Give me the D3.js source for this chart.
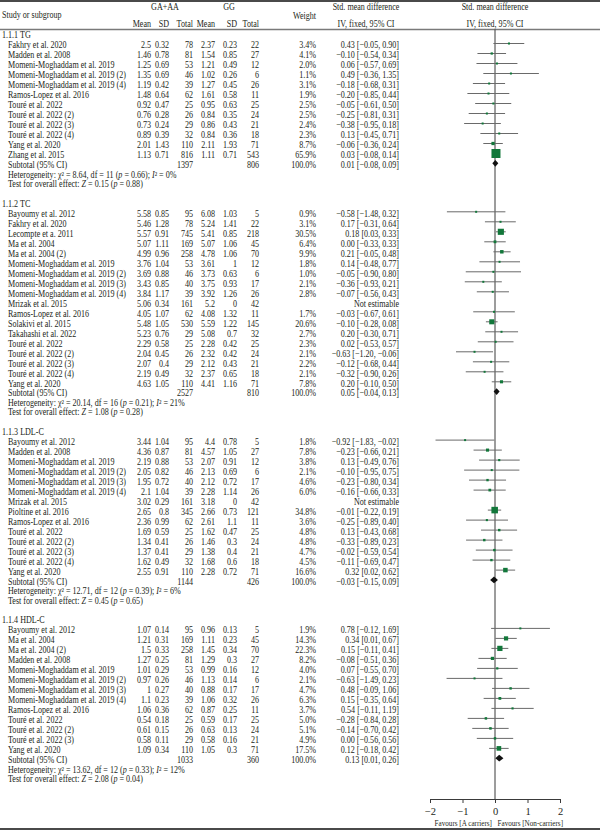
<!DOCTYPE html>
<html><head><meta charset="utf-8">
<script src="https://cdn.jsdelivr.net/npm/d3@7"></script>
<style>
body{margin:0;background:#fff}
text{font-family:"Liberation Serif","Times New Roman",serif;fill:#231f20}
</style>
</head><body><svg id="c" width="600" height="838"></svg>
<script>
// ---------------- DATA ----------------
const sectionTitles = ["1.1.1 TG", "1.1.2 TC", "1.1.3 LDL-C", "1.1.4 HDL-C"];
// [study, meanA, sdA, totalA, meanG, sdG, totalG, weight%, smd, lo, hi]
const tgRows = [
  ["Fakhry et al. 2020", 2.5, 0.32, 78, 2.37, 0.23, 22, 3.4, 0.43, -0.05, 0.90],
  ["Madden et al. 2008", 1.46, 0.78, 81, 1.54, 0.85, 27, 4.1, -0.10, -0.54, 0.34],
  ["Momeni-Moghaddam et al. 2019", 1.25, 0.69, 53, 1.21, 0.49, 12, 2.0, 0.06, -0.57, 0.69],
  ["Momeni-Moghaddam et al. 2019 (2)", 1.35, 0.69, 46, 1.02, 0.26, 6, 1.1, 0.49, -0.36, 1.35],
  ["Momeni-Moghaddam et al. 2019 (4)", 1.19, 0.42, 39, 1.27, 0.45, 26, 3.1, -0.18, -0.68, 0.31],
  ["Ramos-Lopez et al. 2016", 1.48, 0.64, 62, 1.61, 0.58, 11, 1.9, -0.20, -0.85, 0.44],
  ["Touré et al. 2022", 0.92, 0.47, 25, 0.95, 0.63, 25, 2.5, -0.05, -0.61, 0.50],
  ["Touré et al. 2022 (2)", 0.76, 0.28, 26, 0.84, 0.35, 24, 2.5, -0.25, -0.81, 0.31],
  ["Touré et al. 2022 (3)", 0.73, 0.24, 29, 0.86, 0.43, 21, 2.4, -0.38, -0.95, 0.18],
  ["Touré et al. 2022 (4)", 0.89, 0.39, 32, 0.84, 0.36, 18, 2.3, 0.13, -0.45, 0.71],
  ["Yang et al. 2020", 2.01, 1.43, 110, 2.11, 1.93, 71, 8.7, -0.06, -0.36, 0.24],
  ["Zhang et al. 2015", 1.13, 0.71, 816, 1.11, 0.71, 543, 65.9, 0.03, -0.08, 0.14]
];
const tcRows = [
  ["Bayoumy et al. 2012", 5.58, 0.85, 95, 6.08, 1.03, 5, 0.9, -0.58, -1.48, 0.32],
  ["Fakhry et al. 2020", 5.46, 1.28, 78, 5.24, 1.41, 22, 3.1, 0.17, -0.31, 0.64],
  ["Lecompte et a. 2011", 5.57, 0.91, 745, 5.41, 0.85, 218, 30.5, 0.18, 0.03, 0.33],
  ["Ma et al. 2004", 5.07, 1.11, 169, 5.07, 1.06, 45, 6.4, 0.00, -0.33, 0.33],
  ["Ma et al. 2004 (2)", 4.99, 0.96, 258, 4.78, 1.06, 70, 9.9, 0.21, -0.05, 0.48],
  ["Momeni-Moghaddam et al. 2019", 3.76, 1.04, 53, 3.61, 1, 12, 1.8, 0.14, -0.48, 0.77],
  ["Momeni-Moghaddam et al. 2019 (2)", 3.69, 0.88, 46, 3.73, 0.63, 6, 1.0, -0.05, -0.90, 0.80],
  ["Momeni-Moghaddam et al. 2019 (3)", 3.43, 0.85, 40, 3.75, 0.93, 17, 2.1, -0.36, -0.93, 0.21],
  ["Momeni-Moghaddam et al. 2019 (4)", 3.84, 1.17, 39, 3.92, 1.26, 26, 2.8, -0.07, -0.56, 0.43],
  ["Mrizak et al. 2015", 5.06, 0.34, 161, 5.2, 0, 42, null, null, null, null],
  ["Ramos-Lopez et al. 2016", 4.05, 1.07, 62, 4.08, 1.32, 11, 1.7, -0.03, -0.67, 0.61],
  ["Solakivi et al. 2015", 5.48, 1.05, 530, 5.59, 1.22, 145, 20.6, -0.10, -0.28, 0.08],
  ["Takahashi et al. 2022", 5.23, 0.76, 29, 5.08, 0.7, 32, 2.7, 0.20, -0.30, 0.71],
  ["Touré et al. 2022", 2.29, 0.58, 25, 2.28, 0.42, 25, 2.3, 0.02, -0.53, 0.57],
  ["Touré et al. 2022 (2)", 2.04, 0.45, 26, 2.32, 0.42, 24, 2.1, -0.63, -1.20, -0.06],
  ["Touré et al. 2022 (3)", 2.07, 0.4, 29, 2.12, 0.43, 21, 2.2, -0.12, -0.68, 0.44],
  ["Touré et al. 2022 (4)", 2.19, 0.49, 32, 2.37, 0.65, 18, 2.1, -0.32, -0.90, 0.26],
  ["Yang et al. 2020", 4.63, 1.05, 110, 4.41, 1.16, 71, 7.8, 0.20, -0.10, 0.50]
];
const ldlRows = [
  ["Bayoumy et al. 2012", 3.44, 1.04, 95, 4.4, 0.78, 5, 1.8, -0.92, -1.83, -0.02],
  ["Madden et al. 2008", 4.36, 0.87, 81, 4.57, 1.05, 27, 7.8, -0.23, -0.66, 0.21],
  ["Momeni-Moghaddam et al. 2019", 2.19, 0.88, 53, 2.07, 0.91, 12, 3.8, 0.13, -0.49, 0.76],
  ["Momeni-Moghaddam et al. 2019 (2)", 2.05, 0.82, 46, 2.13, 0.69, 6, 2.1, -0.10, -0.95, 0.75],
  ["Momeni-Moghaddam et al. 2019 (3)", 1.95, 0.72, 40, 2.12, 0.72, 17, 4.6, -0.23, -0.80, 0.34],
  ["Momeni-Moghaddam et al. 2019 (4)", 2.1, 1.04, 39, 2.28, 1.14, 26, 6.0, -0.16, -0.66, 0.33],
  ["Mrizak et al. 2015", 3.02, 0.29, 161, 3.18, 0, 42, null, null, null, null],
  ["Pioltine et al. 2016", 2.65, 0.8, 345, 2.66, 0.73, 121, 34.8, -0.01, -0.22, 0.19],
  ["Ramos-Lopez et al. 2016", 2.36, 0.99, 62, 2.61, 1.1, 11, 3.6, -0.25, -0.89, 0.40],
  ["Touré et al. 2022", 1.69, 0.59, 25, 1.62, 0.47, 25, 4.8, 0.13, -0.43, 0.68],
  ["Touré et al. 2022 (2)", 1.34, 0.41, 26, 1.46, 0.3, 24, 4.8, -0.33, -0.89, 0.23],
  ["Touré et al. 2022 (3)", 1.37, 0.41, 29, 1.38, 0.4, 21, 4.7, -0.02, -0.59, 0.54],
  ["Touré et al. 2022 (4)", 1.62, 0.49, 32, 1.68, 0.6, 18, 4.5, -0.11, -0.69, 0.47],
  ["Yang et al. 2020", 2.55, 0.91, 110, 2.28, 0.72, 71, 16.6, 0.32, 0.02, 0.62]
];
const hdlRows = [
  ["Bayoumy et al. 2012", 1.07, 0.14, 95, 0.96, 0.13, 5, 1.9, 0.78, -0.12, 1.69],
  ["Ma et al. 2004", 1.21, 0.31, 169, 1.11, 0.23, 45, 14.3, 0.34, 0.01, 0.67],
  ["Ma et al. 2004 (2)", 1.5, 0.33, 258, 1.45, 0.34, 70, 22.3, 0.15, -0.11, 0.41],
  ["Madden et al. 2008", 1.27, 0.25, 81, 1.29, 0.3, 27, 8.2, -0.08, -0.51, 0.36],
  ["Momeni-Moghaddam et al. 2019", 1.01, 0.29, 53, 0.99, 0.16, 12, 4.0, 0.07, -0.55, 0.70],
  ["Momeni-Moghaddam et al. 2019 (2)", 0.97, 0.26, 46, 1.13, 0.14, 6, 2.1, -0.63, -1.49, 0.23],
  ["Momeni-Moghaddam et al. 2019 (3)", 1, 0.27, 40, 0.88, 0.17, 17, 4.7, 0.48, -0.09, 1.06],
  ["Momeni-Moghaddam et al. 2019 (4)", 1.1, 0.23, 39, 1.06, 0.32, 26, 6.3, 0.15, -0.35, 0.64],
  ["Ramos-Lopez et al. 2016", 1.06, 0.36, 62, 0.87, 0.25, 11, 3.7, 0.54, -0.11, 1.19],
  ["Touré et al. 2022", 0.54, 0.18, 25, 0.59, 0.17, 25, 5.0, -0.28, -0.84, 0.28],
  ["Touré et al. 2022 (2)", 0.61, 0.15, 26, 0.63, 0.13, 24, 5.1, -0.14, -0.70, 0.42],
  ["Touré et al. 2022 (3)", 0.58, 0.11, 29, 0.58, 0.16, 21, 4.9, 0.00, -0.56, 0.56],
  ["Yang et al. 2020", 1.09, 0.34, 110, 1.05, 0.3, 71, 17.5, 0.12, -0.18, 0.42]
];
// [totalA, totalG, smd, lo, hi]
const subtotals = [
  [1397, 806, 0.01, -0.08, 0.09],
  [2527, 810, 0.05, -0.04, 0.13],
  [1144, 426, -0.03, -0.15, 0.09],
  [1033, 360, 0.13, 0.01, 0.26]
];
// [chi2, df, p, I2]
const heterogeneity = [
  [8.64, 11, 0.66, 0],
  [20.14, 16, 0.21, 21],
  [12.71, 12, 0.39, 6],
  [13.62, 12, 0.33, 12]
];
// [Z, p]
const overallEffect = [
  [0.15, 0.88],
  [1.08, 0.28],
  [0.45, 0.65],
  [2.08, 0.04]
];
const xTicks = [-2, -1, 0, 1, 2];
const favourLabels = ["Favours [A carriers]", "Favours [Non-carriers]"];

// ---------------- LAYOUT ----------------
const sectionRows = [tgRows, tcRows, ldlRows, hdlRows];
const svg = d3.select("#c");
const FS = 9.5, SX = 0.85;
const x = d3.scaleLinear().domain([-2, 2]).range([430, 560]);
const colRight = [151, 169, 193, 215, 237, 259];
const weightRight = 316, smdRight = 399;
const minus = s => s.replace(/-/g, "\u2212");
const f2 = v => minus(v.toFixed(2));
const ciText = (m, l, h) => `${f2(m)} [${f2(l)}, ${f2(h)}]`;
const size = d3.scaleSqrt().domain([0, 65.9]).range([0, 9]);

function txt(xp, yp, s, anchor, fs) {
  return svg.append("text").attr("x", 0).attr("y", 0)
    .attr("transform", `translate(${xp},${yp}) scale(${SX},1)`).text(s)
    .attr("text-anchor", anchor || "start").style("font-size", (fs || FS) + "px");
}
function rich(xp, yp, segs) {
  const t = svg.append("text").attr("x", 0).attr("y", 0)
    .attr("transform", `translate(${xp},${yp}) scale(${SX},1)`).style("font-size", FS + "px");
  segs.forEach(s => t.append("tspan").text(s[0]).style("font-style", s[1] ? "italic" : null));
}

// borders
svg.append("line").attr("x1", 0).attr("x2", 600).attr("y1", 1).attr("y2", 1)
  .attr("stroke", "#4a4a4a").attr("stroke-width", 2);
svg.append("line").attr("x1", 0).attr("x2", 600).attr("y1", 29.5).attr("y2", 29.5)
  .attr("stroke", "#7a7a7a").attr("stroke-width", 1.3);
svg.append("line").attr("x1", 0).attr("x2", 600).attr("y1", 829).attr("y2", 829)
  .attr("stroke", "#4a4a4a").attr("stroke-width", 2);

// header
txt(2, 18, "Study or subgroup");
txt(165, 10, "GA+AA", "middle");
txt(229, 10, "GG", "middle");
["Mean", "SD", "Total", "Mean", "SD", "Total"].forEach((h, i) => txt(colRight[i], 27, h, "end"));
txt(weightRight, 19, "Weight", "end");
txt(366, 10, "Std. mean difference", "middle");
txt(366, 27, "IV, fixed, 95% CI", "middle");
txt(x(0), 10, "Std. mean difference", "middle");
txt(x(0), 27, "IV, fixed, 95% CI", "middle");

// zero line
svg.append("line").attr("x1", x(0)).attr("x2", x(0)).attr("y1", 29.5).attr("y2", 799)
  .attr("stroke", "#3a3a3a").attr("stroke-width", 1);

const TB = 3.3; // baseline offset from row centre
let yc = 35;
sectionRows.forEach((rows, si) => {
  txt(2, yc + TB, sectionTitles[si]);
  rows.forEach((r, i) => {
    const y = yc + 10 + 10 * i;
    txt(8, y + TB, r[0]);
    for (let k = 0; k < 6; k++) txt(colRight[k], y + TB, String(r[k + 1]), "end");
    if (r[7] == null) {
      txt(smdRight, y + TB, "Not estimable", "end");
    } else {
      txt(weightRight, y + TB, r[7].toFixed(1) + "%", "end");
      txt(smdRight, y + TB, ciText(r[8], r[9], r[10]), "end");
      const cy = y - 1.5;
      svg.append("line").attr("x1", x(r[9])).attr("x2", x(r[10])).attr("y1", cy).attr("y2", cy)
        .attr("stroke", "#6a6a6a").attr("stroke-width", 1);
      const s = Math.max(2, size(r[7]));
      svg.append("rect").attr("x", x(r[8]) - s / 2).attr("y", cy - s / 2)
        .attr("width", s).attr("height", s).attr("fill", "#12773a");
    }
  });
  const ys = yc + 10 + 10 * (rows.length - 1) + 9.8;
  const st = subtotals[si];
  txt(8, ys + TB, "Subtotal (95% CI)");
  txt(colRight[2], ys + TB, String(st[0]), "end");
  txt(colRight[5], ys + TB, String(st[1]), "end");
  txt(weightRight, ys + TB, "100.0%", "end");
  txt(smdRight, ys + TB, ciText(st[2], st[3], st[4]), "end");
  const dy = ys - 1.5, h = 3.4;
  const lo = Math.min(x(st[3]), x(st[2]) - 3), hi = Math.max(x(st[4]), x(st[2]) + 3);
  svg.append("path")
    .attr("d", `M${lo},${dy} L${x(st[2])},${dy - h} L${hi},${dy} L${x(st[2])},${dy + h} Z`)
    .attr("fill", "#111");
  const het = heterogeneity[si];
  const yh = ys + 9.5;
  rich(8, yh + TB, [["Heterogeneity: ", 0], ["\u03c7", 0], [`\u00b2 = ${het[0].toFixed(2)}, df = ${het[1]} (`, 0],
    ["p", 1], [` = ${het[2].toFixed(2)}); `, 0], ["I", 1], [`\u00b2 = ${het[3]}%`, 0]]);
  const oe = overallEffect[si];
  const yt = yh + 9.5;
  rich(8, yt + TB, [["Test for overall effect: ", 0], ["Z", 1], [` = ${oe[0].toFixed(2)} (`, 0],
    ["p", 1], [` = ${oe[1].toFixed(2)})`, 0]]);
  yc = yt + 19.5;
});

// axis
const axis = d3.axisBottom(x).tickValues(xTicks).tickSizeInner(4).tickSizeOuter(0).tickPadding(5)
  .tickFormat(d3.format("d"));
const ag = svg.append("g").attr("transform", "translate(0,799)").call(axis);
ag.select(".domain").attr("stroke", "#3a3a3a");
ag.selectAll(".tick line").attr("stroke", "#3a3a3a");
ag.selectAll(".tick text").style("font-size", "10.5px")
  .style("font-family", '"Liberation Serif","Times New Roman",serif').attr("fill", "#231f20");

txt(492, 826, favourLabels[0], "end", 8.4);
txt(497.5, 826, favourLabels[1], "start", 8.4);
</script>
</body></html>
